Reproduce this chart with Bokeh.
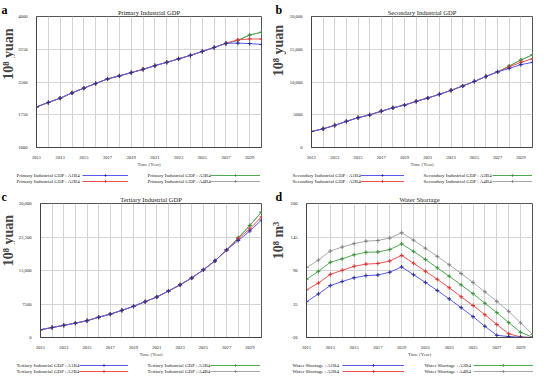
import math
from bokeh.plotting import figure
from bokeh.layouts import column, row
from bokeh.models import Range1d, FixedTicker, Legend, LegendItem, Label
from bokeh.embed import file_html
from bokeh.resources import INLINE

years = list(range(2011, 2031))
scenarios = ["A1B4", "A2B4", "A3B4", "A4B4"]

# Primary Industrial GDP (10^8 yuan)
primary_a1b4 = [1930, 2030, 2130, 2250, 2360, 2465, 2570, 2640, 2715, 2790, 2875, 2950, 3030, 3110, 3200, 3290, 3385, 3390, 3380, 3360]
primary_a2b4 = [1930, 2030, 2130, 2250, 2360, 2465, 2570, 2640, 2715, 2790, 2875, 2950, 3030, 3110, 3200, 3290, 3385, 3465, 3485, 3485]
primary_a3b4 = [1930, 2030, 2130, 2250, 2360, 2465, 2570, 2640, 2715, 2790, 2875, 2950, 3030, 3110, 3200, 3290, 3385, 3455, 3575, 3640]
primary_a4b4 = [1930, 2030, 2130, 2250, 2360, 2465, 2570, 2640, 2715, 2790, 2875, 2950, 3030, 3110, 3200, 3290, 3385, 3455, 3575, 3640]

# Secondary Industrial GDP (10^8 yuan)
secondary_a1b4 = [2440, 2860, 3380, 3990, 4550, 4980, 5540, 6060, 6480, 7040, 7560, 8120, 8730, 9390, 10090, 10850, 11550, 12070, 12650, 13000]
secondary_a2b4 = [2440, 2860, 3380, 3990, 4550, 4980, 5540, 6060, 6480, 7040, 7560, 8120, 8730, 9390, 10090, 10850, 11550, 12300, 13010, 13550]
secondary_a3b4 = [2440, 2860, 3380, 3990, 4550, 4980, 5540, 6060, 6480, 7040, 7560, 8120, 8730, 9390, 10090, 10850, 11550, 12440, 13360, 14150]
secondary_a4b4 = [2440, 2860, 3380, 3990, 4550, 4980, 5540, 6060, 6480, 7040, 7560, 8120, 8730, 9390, 10090, 10850, 11550, 12440, 13360, 14150]

# Tertiary Industrial GDP (10^8 yuan)
tertiary_a1b4 = [1740, 2230, 2720, 3210, 3770, 4540, 5230, 6070, 6980, 8020, 9070, 10400, 11790, 13330, 15140, 17160, 19600, 21700, 23850, 26290]
tertiary_a2b4 = [1740, 2230, 2720, 3210, 3770, 4540, 5230, 6070, 6980, 8020, 9070, 10400, 11790, 13330, 15140, 17160, 19600, 22120, 24330, 27010]
tertiary_a3b4 = [1740, 2230, 2720, 3210, 3770, 4540, 5230, 6070, 6980, 8020, 9070, 10400, 11790, 13330, 15140, 17160, 19600, 22330, 25090, 28080]
tertiary_a4b4 = [1740, 2230, 2720, 3210, 3770, 4540, 5230, 6070, 6980, 8020, 9070, 10400, 11790, 13330, 15140, 17160, 19600, 22330, 25090, 28080]

# Water Shortage (10^8 m3)
water_a1b4 = [38.7, 51.5, 65.2, 71.9, 78.0, 81.6, 82.6, 87.2, 95.9, 83.1, 70.4, 57.1, 43.3, 29.0, 14.2, -1.6, -16.4, -18.4, -19.5, -20.0]
water_a2b4 = [58.1, 69.3, 83.6, 90.3, 96.9, 100.5, 101.5, 105.6, 114.8, 102.0, 88.7, 75.5, 61.7, 46.9, 32.6, 17.3, 1.4, -13.9, -19.0, -20.0]
water_a3b4 = [75.5, 88.7, 103.5, 109.2, 115.8, 119.9, 120.4, 124.5, 133.6, 121.4, 108.1, 94.3, 80.6, 66.3, 52.0, 36.2, 20.8, 4.5, -11.5, -19.5]
water_a4b4 = [94.8, 107.1, 121.9, 128.5, 134.2, 138.2, 139.3, 143.3, 152.0, 139.8, 126.5, 113.2, 99.4, 85.2, 70.4, 55.0, 39.2, 22.9, 4.0, -15.0]

x_tick_years = list(range(2011, 2030, 2))

primary_ticks = [1000, 1750, 2500, 3250, 4000]
primary_tick_labels = ["1000", "1750", "2500", "3250", "4000"]
secondary_ticks = [0, 5000, 10000, 15000, 20000]
secondary_tick_labels = ["0", "5000", "10,000", "15,000", "20,000"]
tertiary_ticks = [0, 7500, 15000, 22500, 30000]
tertiary_tick_labels = ["0", "7500", "15,000", "22,500", "30,000"]
water_ticks = [-20, 35, 90, 145, 200]
water_tick_labels = ["-20", "35", "90", "145", "200"]

line_colors = ["#5a5af2", "#f05050", "#50aa50", "#a8a8a8"]
marker_colors = ["#2c2c90", "#d83030", "#3a903a", "#808080"]

FONT = "Liberation Serif"


def blank_fig(width, height, title=""):
    q = figure(width=width, height=height, output_backend="svg", toolbar_location=None,
               title=title,
               x_range=Range1d(0, 1), y_range=Range1d(0, 1),
               x_axis_type=None, y_axis_type=None, min_border=0,
               outline_line_color=None,
               background_fill_color="white", border_fill_color="white")
    q.xgrid.visible = False
    q.ygrid.visible = False
    return q


def make_strip(width, height, letter, letter_offset, ylabel, label_x, label_y):
    # left-hand strip: panel letter (as the strip's title) and the rotated unit label
    s = blank_fig(width, height, title=letter)
    s.title.text_font = FONT
    s.title.text_font_size = "12px"
    s.title.text_font_style = "bold"
    s.title.text_color = "black"
    s.title.align = "left"
    s.title.offset = letter_offset
    s.title.standoff = 0
    s.add_layout(Label(x=label_x, y=label_y, x_units="screen", y_units="screen",
                       text=ylabel, text_font=FONT, text_font_size="14px",
                       text_font_style="bold", angle=math.pi / 2,
                       text_baseline="middle", text_align="center"))
    return s


def make_panel(title, series, ticks, tick_labels, width, height, border_left, border_right):
    p = figure(width=width, height=height, output_backend="svg", toolbar_location=None,
               x_range=Range1d(2011, 2030), y_range=Range1d(ticks[0], ticks[-1]),
               min_border_left=border_left, min_border_right=border_right,
               min_border_top=10, min_border_bottom=15,
               background_fill_color="white", border_fill_color="white")
    p.title.text = title
    p.title.align = "center"
    p.title.text_font = FONT
    p.title.text_font_size = "6.5px"
    p.title.text_font_style = "normal"
    p.title.text_color = "#222222"
    p.title.standoff = 1

    p.outline_line_color = "#555555"
    p.outline_line_width = 1

    p.xgrid.ticker = FixedTicker(ticks=years)
    p.xgrid.grid_line_color = "#d4d4d4"
    p.ygrid.grid_line_color = "#d4d4d4"

    p.xaxis.ticker = FixedTicker(ticks=x_tick_years)
    p.yaxis.ticker = FixedTicker(ticks=ticks)
    p.yaxis.major_label_overrides = {t: l for t, l in zip(ticks, tick_labels)}
    for ax in (p.xaxis, p.yaxis):
        ax.axis_line_color = "#444444"
        ax.major_tick_line_color = None
        ax.minor_tick_line_color = None
        ax.major_label_text_font = FONT
        ax.major_label_text_font_size = "4.6px"
        ax.major_label_text_color = "#222222"
        ax.major_label_standoff = 3
    p.xaxis.major_label_standoff = 2
    p.xaxis.axis_label = "Time (Year)"
    p.xaxis.axis_label_text_font = FONT
    p.xaxis.axis_label_text_font_size = "4.8px"
    p.xaxis.axis_label_text_font_style = "normal"
    p.xaxis.axis_label_standoff = 0

    for i in [3, 2, 1, 0]:
        p.line(years, series[i], line_color=line_colors[i], line_width=1)
        p.scatter(years, series[i], marker="cross", size=4,
                  line_color=marker_colors[i], line_width=1)
    return p


def make_legend_fig(name, series, height, text_x, row_y, glyph_x, glyph_w, legend_bottom):
    # the series are drawn far outside this strip's ranges (clipped away);
    # they only supply the line/marker styles that the legend samples show
    q = blank_fig(267, height)
    rend = []
    for i in range(4):
        lr = q.line(years, series[i], line_color=line_colors[i], line_width=1)
        sr = q.scatter(years, series[i], marker="cross", size=4,
                       line_color=marker_colors[i], line_width=1)
        rend.append([lr, sr])
    for col in range(2):
        items = [LegendItem(label=" ", renderers=rend[2 * col + r]) for r in range(2)]
        q.add_layout(Legend(items=items, orientation="vertical",
                            location=(glyph_x[col], legend_bottom),
                            label_text_font_size="5px",
                            glyph_width=glyph_w[col], glyph_height=6, label_height=6,
                            label_standoff=0, spacing=0, padding=0, margin=0,
                            border_line_color=None, background_fill_alpha=0))
        for r in range(2):
            q.add_layout(Label(x=text_x[col], y=row_y[r], x_units="screen", y_units="screen",
                               text=f"{name} : {scenarios[2 * col + r]}",
                               text_font=FONT, text_font_size="5px", text_color="#222222",
                               text_baseline="middle", text_align="left"))
    return q


primary = [primary_a1b4, primary_a2b4, primary_a3b4, primary_a4b4]
secondary = [secondary_a1b4, secondary_a2b4, secondary_a3b4, secondary_a4b4]
tertiary = [tertiary_a1b4, tertiary_a2b4, tertiary_a3b4, tertiary_a4b4]
water = [water_a1b4, water_a2b4, water_a3b4, water_a4b4]

sa = make_strip(15, 169, "a", 1, "10\u2078 yuan", 7.5, 93.5)
sb = make_strip(19, 169, "b", 8, "10\u2078 yuan", 11, 97)
sc = make_strip(15, 172, "c", 1, "10\u2078 yuan", 7.5, 97)
sd = make_strip(19, 172, "d", 8, "10\u2078 m\u00b3", 11, 97)

pa = make_panel("Primary Industrial GDP", primary, primary_ticks, primary_tick_labels,
                252, 169, 17, 6)
pb = make_panel("Secondary Industrial GDP", secondary, secondary_ticks, secondary_tick_labels,
                248, 169, 20, 2)
pc = make_panel("Tertiary Industrial GDP", tertiary, tertiary_ticks, tertiary_tick_labels,
                252, 172, 17, 6)
pd_ = make_panel("Water Shortage", water, water_ticks, water_tick_labels,
                 248, 172, 20, 2)

la = make_legend_fig("Primary Industrial GDP", primary, 18,
                     (16, 147), (12.3, 6.3), (82, 210), (46, 50), 3.3)
lb = make_legend_fig("Secondary Industrial GDP", secondary, 18,
                     (25, 156), (12.3, 6.3), (93, 225), (44, 40), 3.3)
lc = make_legend_fig("Tertiary Industrial GDP", tertiary, 16,
                     (16, 147), (10.5, 4.5), (79, 210), (49, 50), 1.5)
ld = make_legend_fig("Water Shortage", water, 16,
                     (25, 157), (10.5, 4.5), (75, 206), (62, 60), 1.5)

layout = column(row(sa, pa, sb, pb), row(la, lb), row(sc, pc, sd, pd_), row(lc, ld))

open("out.html", "w").write(file_html(layout, INLINE))
